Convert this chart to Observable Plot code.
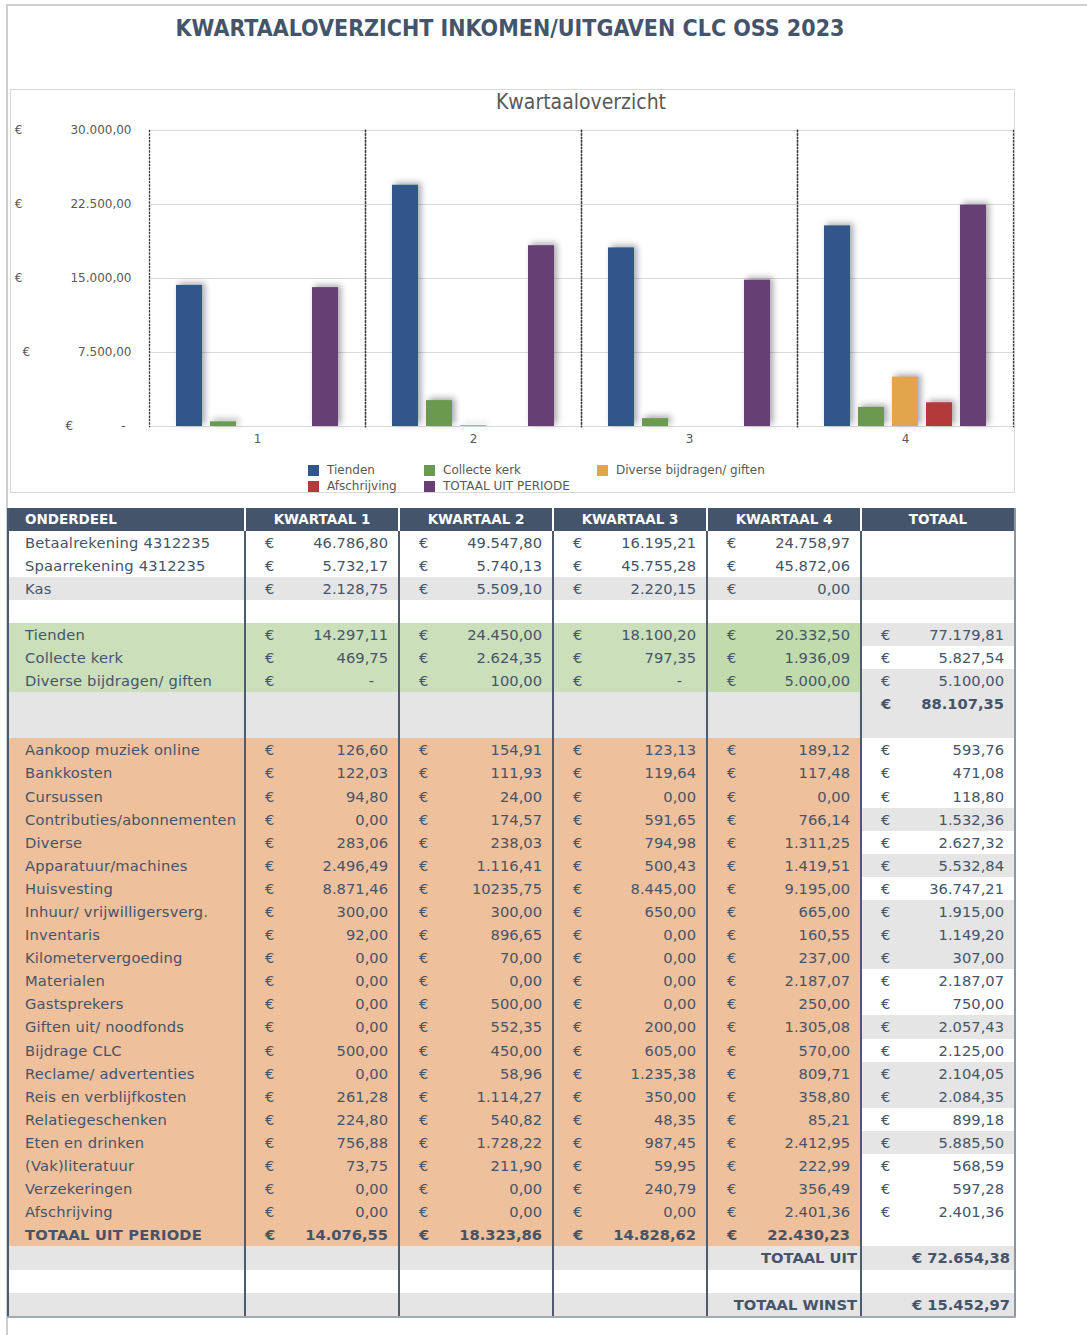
<!DOCTYPE html>
<html><head><meta charset="utf-8">
<script src="https://cdn.jsdelivr.net/npm/d3@7"></script>
<script src="https://cdn.jsdelivr.net/npm/@observablehq/plot@0.6"></script>
<style>
body{margin:0;background:#fff;font-family:"DejaVu Sans",sans-serif;}
#page{position:relative;width:1087px;height:1335px;overflow:hidden;background:#fff;}
#pageframe{position:absolute;left:6px;top:4px;right:-4px;bottom:-4px;border-top:2px solid #cfcfcf;border-left:2px solid #cfcfcf;}
#title{position:absolute;left:0;width:1020px;top:15px;text-align:center;font-weight:bold;font-size:23px;font-stretch:condensed;color:#44546a;font-family:"DejaVu Sans Condensed","DejaVu Sans",sans-serif;white-space:nowrap;}
#chartbox{position:absolute;left:10px;top:89px;width:1005px;height:404px;box-sizing:border-box;border:1px solid #d9d9d9;}
#charttitle{position:absolute;left:148px;width:866px;top:89px;height:26px;line-height:26px;text-align:center;font-size:21px;color:#595959;font-family:"DejaVu Sans Condensed","DejaVu Sans",sans-serif;font-stretch:condensed;}
#chart{position:absolute;left:10px;top:89px;}
#chart g[aria-label="bar"] rect{filter:drop-shadow(3px -2px 3px rgba(0,0,0,0.35));}
#legend{position:absolute;left:308px;top:462px;display:grid;grid-template-columns:116px 173px auto;grid-auto-rows:16px;font-size:12px;color:#595959;}
#legend .item{display:flex;align-items:center;white-space:nowrap;}
#legend .sw{width:11px;height:11px;margin-right:8px;flex:none;}
#table{position:absolute;left:8px;top:508px;width:1007px;color:#44546a;font-size:14.7px;}
#thead{height:22.5px;background:#44546a;color:#fff;font-weight:bold;font-size:13.5px;display:grid;grid-template-columns:237px 154px 154px 154px 154px 154px;line-height:22.5px;}
#thead div{text-align:center;}
#thead div:first-child{text-align:left;padding-left:17px;}
#tbody{display:grid;grid-template-columns:237px 154px 154px 154px 154px 154px;grid-auto-rows:23.1px;}
.cell{line-height:23.1px;white-space:nowrap;overflow:hidden;box-sizing:border-box;}
.lab{padding-left:17px;letter-spacing:0.2px;}
.money{display:flex;justify-content:space-between;padding-left:20px;padding-right:11px;}
.right{text-align:right;padding-right:5px;}
.b{font-weight:bold;}
.vline{position:absolute;width:2px;}
</style>
</head><body>
<div id="page">
  <div id="pageframe"></div>
  <div id="title">KWARTAALOVERZICHT INKOMEN/UITGAVEN CLC OSS 2023</div>
  <div id="chartbox"></div>
  <div id="charttitle">Kwartaaloverzicht</div>
  <div id="chart"></div>
  <div id="legend"></div>
  <div id="table"><div id="thead"></div><div id="tbody"></div></div>
</div>
<script>
// ---------- DATA ----------
const quarters = ["1", "2", "3", "4"];
const series = ["Tienden", "Collecte kerk", "Diverse bijdragen/ giften", "Afschrijving", "TOTAAL UIT PERIODE"];
const seriesColors = ["#31568a", "#6a9a4e", "#e3a54b", "#b4393a", "#663f75"];
const tienden = [14297.11, 24450.00, 18100.20, 20332.50];
const collecteKerk = [469.75, 2624.35, 797.35, 1936.09];
const diverseBijdragen = [0, 100.00, 0, 5000.00];
const afschrijving = [0, 0, 0, 2401.36];
const totaalUitPeriode = [14076.55, 18323.86, 14828.62, 22430.23];
const yTicks = [0, 7500, 15000, 22500, 30000];

const tableHeader = ["ONDERDEEL", "KWARTAAL 1", "KWARTAAL 2", "KWARTAAL 3", "KWARTAAL 4", "TOTAAL"];
const rekeningLabels = ["Betaalrekening 4312235", "Spaarrekening 4312235", "Kas"];
const rekeningQ1 = ["46.786,80", "5.732,17", "2.128,75"];
const rekeningQ2 = ["49.547,80", "5.740,13", "5.509,10"];
const rekeningQ3 = ["16.195,21", "45.755,28", "2.220,15"];
const rekeningQ4 = ["24.758,97", "45.872,06", "0,00"];
const inkomstenTotaal = [77179.81, 5827.54, 5100.00];
const inkomstenGeheel = 88107.35;

const uitgavenLabels = ["Aankoop muziek online", "Bankkosten", "Cursussen", "Contributies/abonnementen", "Diverse",
  "Apparatuur/machines", "Huisvesting", "Inhuur/ vrijwilligersverg.", "Inventaris", "Kilometervergoeding",
  "Materialen", "Gastsprekers", "Giften uit/ noodfonds", "Bijdrage CLC", "Reclame/ advertenties",
  "Reis en verblijfkosten", "Relatiegeschenken", "Eten en drinken", "(Vak)literatuur", "Verzekeringen", "Afschrijving"];
const uitgavenQ1 = ["126,60","122,03","94,80","0,00","283,06","2.496,49","8.871,46","300,00","92,00","0,00","0,00","0,00","0,00","500,00","0,00","261,28","224,80","756,88","73,75","0,00","0,00"];
const uitgavenQ2 = ["154,91","111,93","24,00","174,57","238,03","1.116,41","10235,75","300,00","896,65","70,00","0,00","500,00","552,35","450,00","58,96","1.114,27","540,82","1.728,22","211,90","0,00","0,00"];
const uitgavenQ3 = ["123,13","119,64","0,00","591,65","794,98","500,43","8.445,00","650,00","0,00","0,00","0,00","0,00","200,00","605,00","1.235,38","350,00","48,35","987,45","59,95","240,79","0,00"];
const uitgavenQ4 = ["189,12","117,48","0,00","766,14","1.311,25","1.419,51","9.195,00","665,00","160,55","237,00","2.187,07","250,00","1.305,08","570,00","809,71","358,80","85,21","2.412,95","222,99","356,49","2.401,36"];
const uitgavenTotaal = ["593,76","471,08","118,80","1.532,36","2.627,32","5.532,84","36.747,21","1.915,00","1.149,20","307,00","2.187,07","750,00","2.057,43","2.125,00","2.104,05","2.084,35","899,18","5.885,50","568,59","597,28","2.401,36"];
const totaalUitLabel = "TOTAAL UIT";
const totaalUitWaarde = "€ 72.654,38";
const totaalWinstLabel = "TOTAAL WINST";
const totaalWinstWaarde = "€ 15.452,97";

// ---------- STYLE ----------
const BG = {w: "#ffffff", g: "#e5e5e5", gr: "#cbdfba", gr4: "#c2dbac", o: "#efc09c"};
const inkomstenShade = ["g", "w", "g"];
const uitgavenShade = ["w","w","w","g","w","g","w","g","g","g","w","w","g","w","g","g","w","g","w","w","w"];

const nl = d3.formatLocale({decimal: ",", thousands: ".", grouping: [3], currency: ["€", ""]});
const fmt = nl.format(",.2f");

// ---------- CHART ----------
const seriesValues = [tienden, collecteKerk, diverseBijdragen, afschrijving, totaalUitPeriode];
const rows = quarters.flatMap((q, i) => series.map((s, j) => ({quarter: q, series: s, value: seriesValues[j][i]})));

const chart = Plot.plot({
  width: 1005, height: 380,
  marginLeft: 138, marginRight: 1, marginTop: 41, marginBottom: 43,
  style: {fontFamily: "DejaVu Sans", fontSize: "12px", color: "#595959", background: "transparent", overflow: "visible"},
  fx: {domain: quarters, padding: 0, axis: "bottom", label: null, tickSize: 0, tickPadding: 8},
  x: {domain: series, axis: null, paddingInner: 0.235, paddingOuter: 0.79},
  y: {domain: [0, 30000], ticks: yTicks, tickSize: 0, tickPadding: 18, label: null,
      tickFormat: d => "€\u2003\u2003\u2003\u2003" + (d === 0 ? "-\u2002" : fmt(d))},
  color: {domain: series, range: seriesColors},
  marks: [
    Plot.ruleY(yTicks, {stroke: "#d9d9d9", strokeWidth: 1}),
    Plot.frame({anchor: "left", stroke: "#3a3a3a", strokeDasharray: "1.2,2.2", strokeWidth: 1.3}),
    Plot.frame({anchor: "right", stroke: "#3a3a3a", strokeDasharray: "1.2,2.2", strokeWidth: 1.3}),
    Plot.barY(rows, {filter: d => d.value > 0, fx: "quarter", x: "series", y: "value", fill: "series"})
  ]
});
document.getElementById("chart").appendChild(chart);

// legend
const legend = d3.select("#legend");
series.forEach((s, i) => {
  const it = legend.append("div").attr("class", "item");
  it.append("div").attr("class", "sw").style("background", seriesColors[i]);
  it.append("span").text(s);
});

// ---------- TABLE ----------
d3.select("#thead").selectAll("div").data(tableHeader).join("div").text(d => d);

const dash = "-";
const tableRows = [];
const emptyRow = sh => ({cells: [{t:"empty"},{t:"empty"},{t:"empty"},{t:"empty"},{t:"empty"},{t:"empty"}], bg: [sh,sh,sh,sh,sh,sh]});
// rekeningen
rekeningLabels.forEach((l, i) => {
  const sh = i === 2 ? "g" : "w";
  tableRows.push({cells: [
    {t: "lab", v: l}, {t: "money", v: rekeningQ1[i]}, {t: "money", v: rekeningQ2[i]},
    {t: "money", v: rekeningQ3[i]}, {t: "money", v: rekeningQ4[i]}, {t: "empty"}], bg: [sh,sh,sh,sh,sh,sh]});
});
tableRows.push(emptyRow("w"));
// inkomsten
[tienden, collecteKerk, diverseBijdragen].forEach((arr, i) => {
  tableRows.push({cells: [{t: "lab", v: series[i]}, ...arr.map(v => ({t: "money", v: v === 0 ? dash : fmt(v)})),
    {t: "money", v: fmt(inkomstenTotaal[i])}], bg: ["gr","gr","gr","gr","gr4", inkomstenShade[i]]});
});
tableRows.push({cells: [{t:"empty"},{t:"empty"},{t:"empty"},{t:"empty"},{t:"empty"},{t:"money", v: fmt(inkomstenGeheel), bold: true}], bg: ["g","g","g","g","g","g"]});
tableRows.push(emptyRow("g"));
// uitgaven
uitgavenLabels.forEach((l, i) => {
  tableRows.push({cells: [{t: "lab", v: l}, {t: "money", v: uitgavenQ1[i]}, {t: "money", v: uitgavenQ2[i]},
    {t: "money", v: uitgavenQ3[i]}, {t: "money", v: uitgavenQ4[i]}, {t: "money", v: uitgavenTotaal[i]}],
    bg: ["o","o","o","o","o", uitgavenShade[i]]});
});
tableRows.push({cells: [{t: "lab", v: series[4], bold: true}, ...totaalUitPeriode.map(v => ({t: "money", v: fmt(v), bold: true})), {t: "empty"}],
  bg: ["o","o","o","o","o","w"]});
tableRows.push({cells: [{t:"empty"},{t:"empty"},{t:"empty"},{t:"empty"},{t:"right", v: totaalUitLabel, bold: true},{t:"right", v: totaalUitWaarde, bold: true}], bg: ["g","g","g","g","g","g"]});
tableRows.push(emptyRow("w"));
tableRows.push({cells: [{t:"empty"},{t:"empty"},{t:"empty"},{t:"empty"},{t:"right", v: totaalWinstLabel, bold: true},{t:"right", v: totaalWinstWaarde, bold: true}], bg: ["g","g","g","g","g","g"]});

const tbody = d3.select("#tbody");
tableRows.forEach(r => {
  r.cells.forEach((c, j) => {
    const cell = tbody.append("div").attr("class", "cell" + (c.bold ? " b" : "")).style("background", BG[r.bg[j]]);
    if (c.t === "lab") { cell.classed("lab", true).text(c.v); }
    else if (c.t === "money") {
      cell.classed("money", true);
      cell.append("span").text("€");
      const num = cell.append("span").text(c.v);
      if (c.v === dash) num.style("margin-right", "14px");
    } else if (c.t === "right") { cell.classed("right", true).text(c.v); if (j === 4) cell.style("padding-right", "4px"); }
  });
});

// column separators and borders
const table = d3.select("#table");
const nRows = tableRows.length;
const bodyH = nRows * 23.1;
const colEdges = [237, 391, 545, 699, 853];
colEdges.forEach(x => {
  table.append("div").attr("class", "vline").style("left", (x - 1) + "px").style("top", "0px").style("height", "22.5px").style("background", "#ffffff");
  table.append("div").attr("class", "vline").style("left", (x - 1) + "px").style("top", "22.5px").style("height", bodyH + "px").style("background", "#4e5b6e");
});
table.append("div").attr("class", "vline").style("left", "-1px").style("top", "0px").style("height", (22.5 + bodyH) + "px").style("background", "#4e5b6e").style("width", "1.5px");
table.append("div").attr("class", "vline").style("left", "1006px").style("top", "0px").style("height", (22.5 + bodyH) + "px").style("background", "#8a94a3");
table.append("div").style("position", "absolute").style("left", "-1px").style("top", (22.5 + bodyH) + "px").style("width", "1009px").style("height", "2px").style("background", "#a3a9b2");
</script>
</body></html>
